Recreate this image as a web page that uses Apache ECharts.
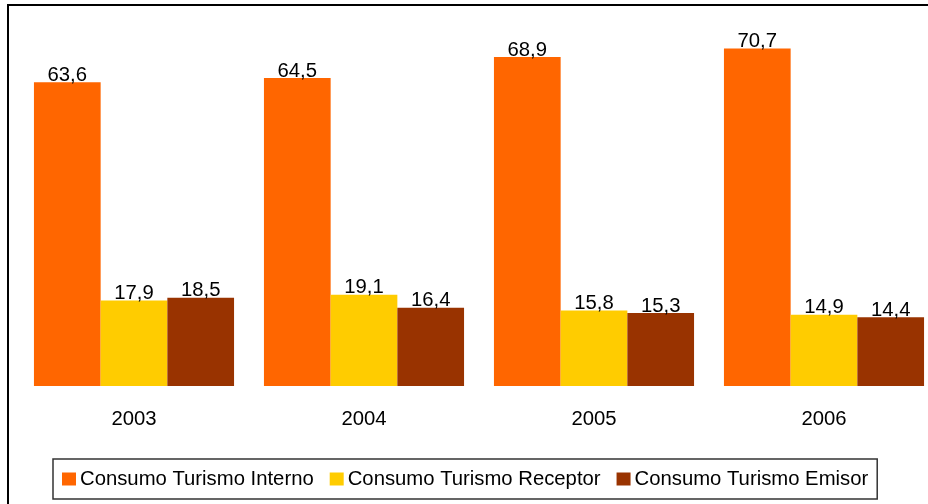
<!DOCTYPE html>
<html>
<head>
<meta charset="utf-8">
<script src="https://cdn.jsdelivr.net/npm/echarts@6/dist/echarts.min.js"></script>
<style>
html,body{margin:0;padding:0;background:#fff;overflow:hidden;}
#main{width:940px;height:504px;}
</style>
</head>
<body>
<div id="main"></div>
<script>
var years = ['2003', '2004', '2005', '2006'];
var interno = [63.6, 64.5, 68.9, 70.7];
var receptor = [17.9, 19.1, 15.8, 14.9];
var emisor = [18.5, 16.4, 15.3, 14.4];

var myChart = echarts.init(document.getElementById('main'));

function fmt(p){
    return p.value.toFixed(1).replace('.', ',');
}
function barSerie(name, data, color){
    return {
        name: name,
        type: 'bar',
        data: data,
        barGap: '0%',
        barCategoryGap: '13%',
        itemStyle: { color: color },
        label: {
            show: true,
            position: 'top',
            distance: -3,
            color: '#000',
            fontSize: 20.3,
            fontFamily: 'Liberation Sans, Arial',
            formatter: fmt
        }
    };
}

var option = {
    animation: false,
    backgroundColor: '#fff',
    textStyle: { fontFamily: 'Liberation Sans, Arial' },
    graphic: [
        {
            type: 'rect',
            shape: { x: 8, y: 5, width: 960, height: 540 },
            style: { fill: null, stroke: '#000', lineWidth: 2 },
            silent: true
        }
    ],
    grid: { left: 19, right: 1, top: 4, bottom: 118 },
    xAxis: {
        type: 'category',
        data: years,
        axisLine: { show: false },
        axisTick: { show: false },
        axisLabel: { color: '#000', fontSize: 20.3, margin: 23 }
    },
    yAxis: {
        type: 'value',
        min: 0,
        max: 80,
        show: false
    },
    legend: {
        left: 53,
        top: 459,
        padding: [10, 9, 10, 9],
        borderColor: '#333',
        borderWidth: 1.5,
        itemWidth: 14,
        itemHeight: 13,
        itemGap: 16,
        icon: 'rect',
        textStyle: { color: '#000', fontSize: 20.3, padding: [0, 0, 0, -1] },
        data: ['Consumo Turismo Interno', 'Consumo Turismo Receptor', 'Consumo Turismo Emisor']
    },
    series: [
        barSerie('Consumo Turismo Interno', interno, '#FF6600'),
        barSerie('Consumo Turismo Receptor', receptor, '#FFCC00'),
        barSerie('Consumo Turismo Emisor', emisor, '#993300')
    ]
};
myChart.setOption(option);
</script>
</body>
</html>
